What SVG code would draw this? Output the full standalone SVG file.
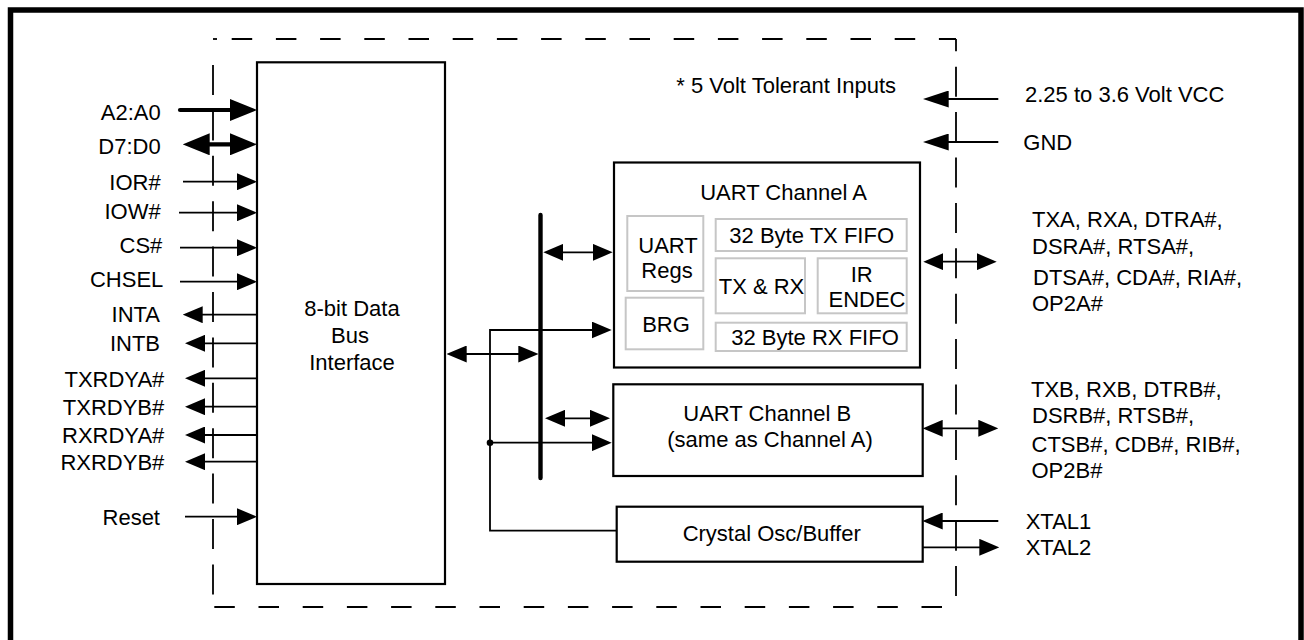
<svg xmlns="http://www.w3.org/2000/svg" width="1304" height="640" viewBox="0 0 1304 640">
<style>
text{font-family:"Liberation Sans",Arial,sans-serif;font-size:22px;fill:#000}
.box{fill:#fff;stroke:#000;stroke-width:2.2}
.sub{fill:#fff;stroke:#c6c6c6;stroke-width:2}
.w{fill:none;stroke:#000;stroke-width:1.8}
.thick{fill:none;stroke:#000;stroke-width:4.2}
.dh{fill:none;stroke:#000;stroke-width:1.8;stroke-dasharray:20.5 23.7}
.dv{fill:none;stroke:#000;stroke-width:1.8;stroke-dasharray:30 15.4}
.m{text-anchor:middle}
.e{text-anchor:end}
</style>
<defs>
<marker id="a" markerUnits="userSpaceOnUse" viewBox="0 0 20 17" markerWidth="20" markerHeight="17" refX="15" refY="8.5" orient="auto-start-reverse"><path d="M0,0 L20,8.5 L0,17 z" fill="#000"/></marker>
<marker id="aL" markerUnits="userSpaceOnUse" viewBox="0 0 26 17" markerWidth="26" markerHeight="17" refX="21" refY="8.5" orient="auto-start-reverse"><path d="M0,0 L26,8.5 L0,17 z" fill="#000"/></marker>
<marker id="aB" markerUnits="userSpaceOnUse" viewBox="0 0 27 22" markerWidth="27" markerHeight="22" refX="20" refY="11" orient="auto-start-reverse"><path d="M0,0 L27,11 L0,22 z" fill="#000"/></marker>
</defs>
<rect x="10.5" y="10" width="1290.5" height="700" fill="#fff" stroke="#000" stroke-width="5.5"/>
<g id="boundary">
<path class="dh" d="M213,39 H956" stroke-dashoffset="25.5"/>
<path class="w" d="M213,39 H217"/>
<path class="dv" d="M956,39 V607" stroke-dashoffset="17.7"/>
<path class="dh" d="M213,607 H956" stroke-dashoffset="42.9"/>
<path class="dv" d="M213,65 V607"/>
</g>
<g id="connectors">
<line class="thick" x1="180" y1="110" x2="250" y2="110" stroke-linecap="round" marker-end="url(#aB)"/>
<line class="thick" x1="189.7" y1="144.3" x2="250" y2="144.3" marker-start="url(#aB)" marker-end="url(#aB)"/>
<line class="w" x1="183" y1="181.7" x2="252" y2="181.7" marker-end="url(#a)"/>
<line class="w" x1="179" y1="212.7" x2="252" y2="212.7" marker-end="url(#a)"/>
<line class="w" x1="180" y1="247.7" x2="252" y2="247.7" marker-end="url(#a)"/>
<line class="w" x1="180" y1="281.7" x2="252" y2="281.7" marker-end="url(#a)"/>
<line class="w" x1="257" y1="314.7" x2="187.7" y2="314.7" marker-end="url(#a)"/>
<line class="w" x1="257" y1="343.3" x2="190" y2="343.3" marker-end="url(#a)"/>
<line class="w" x1="257" y1="378.3" x2="190" y2="378.3" marker-end="url(#a)"/>
<line class="w" x1="257" y1="406.7" x2="190" y2="406.7" marker-end="url(#a)"/>
<line class="w" x1="257" y1="435" x2="190" y2="435" marker-end="url(#a)"/>
<line class="w" x1="257" y1="461.7" x2="190" y2="461.7" marker-end="url(#a)"/>
<line class="w" x1="185" y1="516.7" x2="252" y2="516.7" marker-end="url(#a)"/>
<line class="w" x1="451.7" y1="354" x2="533.3" y2="354" marker-start="url(#a)" marker-end="url(#a)"/>
<line x1="540.5" y1="215" x2="540.5" y2="478" stroke="#000" stroke-width="4.4" stroke-linecap="round"/>
<line class="w" x1="548.3" y1="252.3" x2="607.7" y2="252.3" marker-start="url(#a)" marker-end="url(#a)"/>
<path class="w" d="M616.7,530.7 H490 V330 H606.7" marker-end="url(#a)"/>
<line class="w" x1="490" y1="442.7" x2="606.7" y2="442.7" marker-end="url(#a)"/>
<circle cx="490" cy="442.7" r="3.3" fill="#000"/>
<line class="w" x1="550" y1="418.3" x2="605" y2="418.3" marker-start="url(#a)" marker-end="url(#a)"/>
<line class="w" x1="998.3" y1="99" x2="927.7" y2="99" marker-end="url(#aL)"/>
<line class="w" x1="998.3" y1="142" x2="927.7" y2="142" marker-end="url(#aL)"/>
<line class="w" x1="928.3" y1="261.7" x2="991.7" y2="261.7" marker-start="url(#a)" marker-end="url(#a)"/>
<line class="w" x1="927.7" y1="428.3" x2="993.3" y2="428.3" marker-start="url(#a)" marker-end="url(#a)"/>
<line class="w" x1="998.3" y1="521" x2="927.7" y2="521" marker-end="url(#a)"/>
<line class="w" x1="922.7" y1="547.3" x2="994.3" y2="547.3" marker-end="url(#a)"/>
</g>
<g id="bus-interface">
<rect class="box" x="257" y="62.3" width="188" height="521.7"/>
<text class="m" x="352" y="316">8-bit Data</text>
<text class="m" x="350" y="343">Bus</text>
<text class="m" x="352" y="370">Interface</text>
</g>
<g id="uart-a">
<rect class="box" x="614" y="162.5" width="306" height="205"/>
<text class="m" x="783.5" y="200">UART Channel A</text>
<g id="uart-regs"><rect class="sub" x="627.3" y="216" width="76" height="75"/>
<text class="m" x="668" y="253.3">UART</text><text class="m" x="667" y="278.3">Regs</text></g>
<g id="brg"><rect class="sub" x="625.7" y="297.7" width="77.6" height="51.6"/>
<text class="m" x="666" y="331.7">BRG</text></g>
<g id="tx-fifo"><rect class="sub" x="715.7" y="219" width="191" height="32"/>
<text class="m" x="811.7" y="242.7">32 Byte TX FIFO</text></g>
<g id="txrx"><rect class="sub" x="715.7" y="258.3" width="89.3" height="55"/>
<text class="m" x="761.5" y="294">TX &amp; RX</text></g>
<g id="ir-endec"><rect class="sub" x="817.7" y="258.3" width="89" height="55"/>
<text class="m" x="861.7" y="281.7">IR</text><text class="m" x="867" y="306.7">ENDEC</text></g>
<g id="rx-fifo"><rect class="sub" x="715.7" y="322.7" width="191" height="28.3"/>
<text class="m" x="815" y="345">32 Byte RX FIFO</text></g>
</g>
<g id="uart-b">
<rect class="box" x="613.3" y="384.3" width="309.4" height="91.7"/>
<text class="m" x="767.3" y="421">UART Channel B</text>
<text class="m" x="770" y="447.3">(same as Channel A)</text>
</g>
<g id="crystal">
<rect class="box" x="616.7" y="506.7" width="306" height="55"/>
<text class="m" x="771.7" y="540.7">Crystal Osc/Buffer</text>
</g>
<g id="labels">
<text class="e" x="160.7" y="120">A2:A0</text>
<text class="e" x="160.7" y="154">D7:D0</text>
<text class="e" x="160.7" y="190">IOR#</text>
<text class="e" x="160.7" y="219">IOW#</text>
<text class="e" x="162.3" y="253">CS#</text>
<text class="e" x="163.3" y="287">CHSEL</text>
<text class="e" x="160" y="322">INTA</text>
<text class="e" x="160" y="351">INTB</text>
<text class="e" x="164.3" y="387">TXRDYA#</text>
<text class="e" x="164.3" y="415">TXRDYB#</text>
<text class="e" x="164.3" y="443">RXRDYA#</text>
<text class="e" x="164.3" y="470">RXRDYB#</text>
<text class="e" x="160" y="525">Reset</text>
<text class="e" x="896" y="93.3">* 5 Volt Tolerant Inputs</text>
<text x="1025" y="101.7">2.25 to 3.6 Volt VCC</text>
<text x="1023.3" y="150">GND</text>
<text x="1032" y="226.7">TXA, RXA, DTRA#,</text>
<text x="1032" y="254.3">DSRA#, RTSA#,</text>
<text x="1033" y="285">DTSA#, CDA#, RIA#,</text>
<text x="1032" y="310.7">OP2A#</text>
<text x="1031" y="396.7">TXB, RXB, DTRB#,</text>
<text x="1032" y="423.3">DSRB#, RTSB#,</text>
<text x="1031.5" y="451.7">CTSB#, CDB#, RIB#,</text>
<text x="1031.5" y="477.7">OP2B#</text>
<text x="1025.7" y="529">XTAL1</text>
<text x="1025.7" y="555">XTAL2</text>
</g>
</svg>
